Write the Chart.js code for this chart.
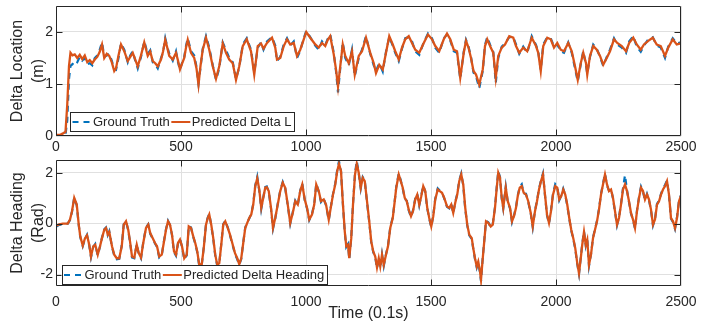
<!DOCTYPE html>
<html>
<head>
<meta charset="utf-8">
<script src="https://cdn.jsdelivr.net/npm/chart.js@4.4.1/dist/chart.umd.min.js"></script>
<style>
  html, body { margin: 0; padding: 0; background: #fff; }
  #wrap { position: relative; width: 722px; height: 324px; overflow: hidden; }
  canvas { position: absolute; left: 0; }
</style>
</head>
<body>
<div id="wrap">
  <canvas id="locChart" width="722" height="156" style="top:0px"></canvas>
  <canvas id="headChart" width="722" height="168" style="top:156px"></canvas>
</div>
<script>
// time axis + tick labels
const xTicks = [0, 500, 1000, 1500, 2000, 2500];
const locTicks = [0, 1, 2];
const headTicks = [-2, 0, 2];

// Delta Location (m)
const locTime = [
  0,15,28,38,45,52,58,66,75,85,
  95,105,115,125,135,145,155,165,175,184,
  193,203,213,223,233,240,250,260,273,287,
  297,307,317,327,340,353,367,377,387,397,
  407,420,428,437,445,453,467,480,488,496,
  505,513,520,527,540,553,562,570,578,587,
  600,613,627,640,653,667,680,693,707,720,
  733,747,763,780,793,807,820,830,844,864,
  877,884,897,911,924,937,951,964,977,991,
  1001,1017,1037,1051,1064,1077,1087,1097,1111,1120,
  1128,1137,1147,1157,1171,1184,1195,1211,1224,1240,
  1257,1271,1280,1293,1307,1320,1333,1347,1357,1371,
  1384,1397,1411,1424,1437,1453,1471,1488,1504,1517,
  1533,1551,1564,1577,1591,1604,1617,1631,1640,1650,
  1660,1670,1680,1693,1707,1716,1725,1739,1749,1759,
  1769,1783,1796,1813,1829,1840,1853,1869,1885,1903,
  1920,1929,1939,1949,1965,1979,1992,2005,2019,2032,
  2049,2063,2076,2087,2099,2109,2120,2125,2136,2149,
  2163,2176,2189,2203,2216,2232,2245,2263,2280,2293,
  2309,2323,2339,2352,2369,2387,2403,2419,2436,2449,
  2467,2483,2500
];
const locTrue = [
  0,0,0,0.02,0.3,1.1,1.35,1.38,1.45,1.42,
  1.52,1.45,1.5,1.38,1.4,1.36,1.5,1.55,1.66,1.8,
  1.53,1.55,1.58,1.45,1.28,1.27,1.5,1.78,1.66,1.42,
  1.55,1.63,1.45,1.3,1.52,1.82,1.58,1.65,1.42,1.38,
  1.3,1.5,1.6,1.88,1.72,1.58,1.45,1.63,1.42,1.27,
  1.42,1.52,1.73,1.88,1.63,1.55,1.33,1.0,1.32,1.68,
  1.92,1.7,1.36,1.08,1.3,1.8,1.65,1.5,1.42,1.1,
  1.32,1.76,1.88,1.66,1.22,1.7,1.8,1.66,1.82,1.9,
  1.74,1.44,1.52,1.76,1.88,1.74,1.82,1.5,1.64,1.88,
  2.02,1.9,1.74,1.66,1.82,1.75,1.87,1.95,1.6,1.25,
  0.84,1.3,1.8,1.5,1.36,1.66,1.15,1.5,1.66,1.92,
  1.58,1.36,1.25,1.4,1.24,1.62,1.9,1.74,1.6,1.44,
  1.68,1.88,1.9,1.82,1.63,1.56,1.8,1.97,1.88,1.7,
  1.6,1.88,1.95,1.84,1.63,1.6,1.1,1.62,1.85,1.72,
  1.52,1.22,1.15,0.92,1.25,1.75,1.9,1.72,1.62,1.02,
  1.5,1.72,1.78,1.9,1.9,1.76,1.58,1.72,1.6,1.92,
  1.75,1.62,1.27,1.76,1.9,1.88,1.72,1.76,1.63,1.6,
  1.8,1.6,1.3,1.05,1.38,1.63,1.36,1.2,1.52,1.76,
  1.68,1.52,1.35,1.52,1.66,1.88,1.76,1.7,1.6,1.82,
  1.92,1.72,1.62,1.74,1.86,1.9,1.74,1.7,1.5,1.72,
  1.88,1.78,1.8
];
const locPred = [
  0.02,0.02,0.05,0.08,0.6,1.35,1.6,1.55,1.57,1.5,
  1.56,1.48,1.55,1.42,1.46,1.4,1.47,1.52,1.62,1.76,
  1.5,1.58,1.54,1.42,1.25,1.3,1.55,1.76,1.63,1.44,
  1.52,1.6,1.47,1.34,1.55,1.8,1.54,1.62,1.44,1.4,
  1.34,1.47,1.62,1.85,1.7,1.54,1.47,1.6,1.45,1.28,
  1.4,1.5,1.7,1.85,1.6,1.5,1.3,0.99,1.35,1.66,
  1.89,1.66,1.34,1.1,1.34,1.78,1.6,1.47,1.4,1.08,
  1.34,1.73,1.86,1.63,1.18,1.73,1.78,1.68,1.79,1.89,
  1.7,1.47,1.5,1.73,1.86,1.76,1.79,1.54,1.66,1.86,
  2.0,1.89,1.76,1.7,1.79,1.73,1.85,1.92,1.57,1.28,
  0.95,1.34,1.76,1.54,1.4,1.63,1.18,1.54,1.63,1.89,
  1.6,1.4,1.21,1.37,1.28,1.6,1.92,1.76,1.63,1.47,
  1.7,1.86,1.92,1.79,1.66,1.6,1.79,1.95,1.86,1.73,
  1.63,1.86,1.97,1.86,1.66,1.63,1.12,1.6,1.83,1.7,
  1.5,1.25,1.18,0.99,1.28,1.73,1.86,1.7,1.6,1.12,
  1.54,1.7,1.76,1.92,1.89,1.73,1.6,1.7,1.63,1.89,
  1.73,1.6,1.25,1.73,1.89,1.86,1.7,1.79,1.66,1.63,
  1.79,1.63,1.34,1.08,1.4,1.6,1.4,1.18,1.54,1.73,
  1.66,1.54,1.37,1.5,1.63,1.86,1.79,1.73,1.63,1.79,
  1.89,1.76,1.66,1.76,1.83,1.89,1.76,1.73,1.54,1.7,
  1.86,1.76,1.78
];

// Delta Heading (Rad)
const headTime = [
  0,13,27,47,56,64,73,83,91,97,
  107,116,124,133,140,149,157,167,176,184,
  193,200,207,213,224,233,243,253,263,271,
  280,289,296,304,313,323,331,340,349,360,
  369,377,387,396,404,413,423,431,440,448,
  456,464,472,480,488,496,504,513,523,531,
  540,549,557,565,573,583,591,600,607,613,
  621,629,637,645,653,661,669,677,687,696,
  707,716,725,733,741,749,757,765,773,781,
  789,797,805,813,821,829,837,843,851,860,
  868,877,887,897,907,917,927,937,947,957,
  967,977,985,995,1004,1013,1024,1033,1041,1051,
  1060,1071,1080,1091,1100,1108,1117,1125,1132,1140,
  1147,1155,1161,1168,1173,1181,1188,1196,1203,1211,
  1219,1227,1235,1244,1253,1261,1269,1277,1284,1291,
  1297,1304,1311,1320,1328,1337,1347,1355,1361,1371,
  1379,1387,1395,1403,1411,1420,1428,1437,1445,1453,
  1461,1469,1477,1485,1493,1501,1509,1517,1527,1535,
  1544,1553,1564,1573,1581,1589,1597,1605,1613,1621,
  1629,1637,1645,1653,1663,1669,1676,1683,1689,1696,
  1700,1707,1713,1720,1729,1739,1747,1756,1763,1769,
  1776,1783,1789,1799,1807,1816,1824,1832,1840,1847,
  1855,1863,1871,1880,1889,1899,1907,1916,1924,1932,
  1940,1948,1956,1964,1972,1980,1988,1997,2005,2013,
  2021,2029,2037,2045,2053,2061,2069,2077,2085,2092,
  2099,2105,2112,2119,2125,2132,2140,2148,2156,2164,
  2172,2180,2188,2196,2204,2212,2220,2228,2236,2244,
  2252,2260,2268,2276,2284,2292,2300,2308,2316,2324,
  2332,2340,2348,2356,2364,2372,2380,2388,2396,2404,
  2412,2420,2428,2436,2444,2452,2460,2468,2476,2484,
  2492,2500
];
const headTrue = [
  -0.12,-0.05,-0.02,0,0.14,0.47,1.03,0.72,-0.06,-0.53,
  -0.88,-0.6,-0.44,-0.86,-1.32,-0.92,-0.8,-1.25,-0.9,-0.55,
  -0.22,-0.15,-0.45,-0.3,-0.92,-1.25,-1.4,-1.38,-0.86,-0.02,
  0.1,-0.27,-0.72,-1.33,-1.36,-0.8,-1.2,-1.37,-0.73,-0.15,
  -0.02,-0.4,-0.6,-0.78,-0.92,-1.33,-1.25,-0.73,-0.22,0.11,
  -0.06,-0.45,-1.12,-1.26,-0.78,-0.6,-0.92,-1.4,-1.25,-0.09,
  -0.15,-0.52,-0.79,-1.12,-1.66,-1.62,-0.93,-0.02,0.24,0.38,
  -0.06,-0.6,-1.25,-1.66,-1.58,-0.8,-0.02,0.11,-0.15,-0.46,
  -0.86,-1.2,-1.4,-1.62,-1.39,-0.73,-0.15,0.05,0.2,0.38,
  0.78,1.5,1.84,1.3,0.58,1.03,1.44,1.46,1.25,0.6,
  -0.2,0.2,0.78,1.3,1.64,1.38,0.72,0,0.45,0.9,
  0.72,1.3,1.58,0.92,0.6,0.14,0.38,0.78,1.57,1.25,
  0.85,0.98,0.72,0.13,0.7,1.16,1.57,2.12,2.45,2.05,
  0.85,-0.33,-0.92,-0.8,-1.4,-0.55,0.78,1.96,2.46,1.97,
  1.38,1.83,1.7,0.85,0.06,-0.73,-1.12,-1.32,-1.76,-1.33,
  -1.72,-1.2,-1.66,-1.2,-0.86,-0.15,0.25,0.9,1.44,1.97,
  1.7,1.38,0.98,0.9,0.52,0.26,0.52,0.98,1.17,0.72,
  1.1,1.5,1.25,0.6,0.2,-0.14,0.32,0.98,1.38,1.3,
  1.24,0.98,0.66,0.6,0.78,0.4,0.85,1.17,1.7,1.97,
  1.5,0.58,-0.07,-0.46,-0.6,-0.99,-1.4,-1.72,-1.52,-1.92,
  -2.26,-1.33,-0.67,0.11,0.05,-0.14,-0.02,0.65,1.45,2.06,
  1.83,0.98,0.6,1.45,0.85,0.6,0.06,0.32,0.65,1.1,
  1.45,1.55,1.18,1.17,0.85,0.4,-0.14,0.52,0.9,1.37,
  1.7,1.97,1.1,0.33,0,0.52,1.17,1.55,1.45,0.92,
  1.1,1.37,1.12,0.72,0.2,-0.27,-0.6,-0.99,-1.58,-1.98,
  -1.33,-0.8,-0.3,-0.86,-0.6,-1.66,-1.2,-0.55,-0.22,0.11,
  0.58,1.17,1.57,1.96,1.5,1.3,1.37,0.98,0.46,-0.07,
  0.25,0.78,1.38,1.9,1.3,0.85,0.4,0.14,-0.2,0.52,
  1.04,1.45,1.25,0.92,1.17,0.92,0.52,-0.07,0.18,0.78,
  0.9,1.17,1.38,1.52,1.7,1.1,0.2,0.06,-0.2,0.25,
  0.9,1.12
];
const headPred = [
  -0.08,-0.03,0,0,0.16,0.49,1.01,0.75,-0.04,-0.5,
  -0.86,-0.57,-0.46,-0.83,-1.29,-0.89,-0.83,-1.22,-0.89,-0.57,
  -0.24,-0.17,-0.43,-0.33,-0.89,-1.22,-1.36,-1.36,-0.89,-0.04,
  0.09,-0.24,-0.7,-1.29,-1.33,-0.83,-1.16,-1.33,-0.76,-0.17,
  -0.04,-0.37,-0.57,-0.76,-0.89,-1.29,-1.22,-0.76,-0.24,0.09,
  -0.04,-0.43,-1.09,-1.22,-0.76,-0.63,-0.89,-1.36,-1.22,-0.11,
  -0.17,-0.5,-0.76,-1.09,-1.62,-1.59,-0.96,-0.04,0.22,0.36,
  -0.04,-0.57,-1.22,-1.62,-1.55,-0.83,-0.04,0.09,-0.17,-0.43,
  -0.83,-1.16,-1.36,-1.59,-1.36,-0.76,-0.17,0.03,0.22,0.36,
  0.75,1.47,1.78,1.34,0.62,1.01,1.41,1.43,1.28,0.62,
  -0.17,0.22,0.75,1.28,1.61,1.41,0.75,0.03,0.42,0.88,
  0.75,1.28,1.54,0.95,0.62,0.16,0.36,0.75,1.54,1.28,
  0.88,0.95,0.75,0.16,0.68,1.14,1.54,2.07,2.35,2.07,
  0.88,-0.3,-0.89,-0.83,-1.36,-0.57,0.75,1.93,2.35,2.0,
  1.41,1.8,1.67,0.88,0.09,-0.7,-1.09,-1.29,-1.72,-1.36,
  -1.68,-1.22,-1.62,-1.22,-0.89,-0.17,0.22,0.88,1.41,1.93,
  1.67,1.41,1.01,0.88,0.55,0.29,0.49,0.95,1.14,0.75,
  1.08,1.47,1.28,0.62,0.22,-0.11,0.29,0.95,1.34,1.28,
  1.21,1.01,0.68,0.62,0.75,0.42,0.82,1.14,1.67,1.93,
  1.54,0.62,-0.04,-0.43,-0.57,-0.96,-1.36,-1.68,-1.49,-1.88,
  -2.2,-1.36,-0.7,0.09,0.03,-0.11,-0.04,0.62,1.41,2.0,
  1.8,1.01,0.62,1.41,0.88,0.62,0.09,0.29,0.62,1.08,
  1.41,1.47,1.21,1.14,0.88,0.42,-0.11,0.49,0.88,1.34,
  1.67,1.93,1.14,0.36,0.03,0.49,1.14,1.47,1.41,0.95,
  1.08,1.34,1.14,0.75,0.22,-0.24,-0.57,-0.96,-1.55,-1.95,
  -1.36,-0.83,-0.33,-0.83,-0.63,-1.62,-1.22,-0.57,-0.24,0.09,
  0.55,1.14,1.54,1.93,1.54,1.28,1.34,1.01,0.49,-0.04,
  0.22,0.75,1.34,1.54,1.28,0.88,0.42,0.16,-0.17,0.49,
  1.01,1.41,1.28,0.95,1.14,0.95,0.55,-0.04,0.16,0.75,
  0.88,1.14,1.34,1.47,1.67,1.14,0.22,0.09,-0.17,0.22,
  0.88,1.1
];

const INK = '#262626';
const GRID = '#e0e0e0';
const BLUE = '#0072bd';
const ORANGE = '#d95319';
const FONT = "'Liberation Sans', Arial, Helvetica, sans-serif";

const pts = (t, v) => t.map((x, i) => ({ x: x, y: v[i] }));

// axes box with inward tick marks, matlab style
const axesBox = {
  id: 'axesBox',
  afterDatasetsDraw(chart) {
    const { ctx, chartArea: a, scales } = chart;
    const L = Math.round(a.left) + 0.5, R = Math.round(a.right) - 0.5;
    const T = Math.round(a.top) + 0.5, B = Math.round(a.bottom) - 0.5;
    const len = 6;
    ctx.save();
    ctx.strokeStyle = INK;
    ctx.lineWidth = 1;
    ctx.beginPath();
    ctx.rect(L, T, R - L, B - T);
    scales.x.ticks.forEach(t => {
      const px = Math.round(scales.x.getPixelForValue(t.value)) + 0.5;
      if (px <= L + 1 || px >= R - 1) return;
      ctx.moveTo(px, B); ctx.lineTo(px, B - len);
      ctx.moveTo(px, T); ctx.lineTo(px, T + len);
    });
    scales.y.ticks.forEach(t => {
      const py = Math.round(scales.y.getPixelForValue(t.value)) + 0.5;
      if (py <= T + 1 || py >= B - 1) return;
      ctx.moveTo(L, py); ctx.lineTo(L + len, py);
      ctx.moveTo(R, py); ctx.lineTo(R - len, py);
    });
    ctx.stroke();
    ctx.restore();
  }
};

// legend box sitting inside the plot
const boxLegend = {
  id: 'boxLegend',
  afterDatasetsDraw(chart, args, o) {
    const ctx = chart.ctx;
    const sets = chart.data.datasets;
    ctx.save();
    ctx.font = o.size + 'px ' + FONT;
    let cur = o.x + 2.5;
    const items = sets.map(ds => {
      const it = { ds: ds, x0: cur };
      cur += o.sample + 1.5;
      it.tx = cur;
      cur += ctx.measureText(ds.label).width + 1.5;
      return it;
    });
    const w = cur + 1.5 - o.x;
    ctx.fillStyle = '#fff';
    ctx.fillRect(o.x, o.y, w, o.h);
    ctx.strokeStyle = INK;
    ctx.lineWidth = 1;
    ctx.strokeRect(Math.round(o.x) + 0.5, Math.round(o.y) + 0.5, Math.round(w) - 1, Math.round(o.h) - 1);
    const cy = o.y + o.h / 2;
    items.forEach(it => {
      ctx.beginPath();
      ctx.strokeStyle = it.ds.borderColor;
      ctx.lineWidth = 2;
      ctx.setLineDash(it.ds.borderDash || []);
      ctx.moveTo(it.x0, cy);
      ctx.lineTo(it.x0 + o.sample, cy);
      ctx.stroke();
      ctx.setLineDash([]);
      ctx.fillStyle = INK;
      ctx.textBaseline = 'middle';
      ctx.textAlign = 'left';
      ctx.fillText(it.ds.label, it.tx, cy + 0.5);
    });
    ctx.restore();
  }
};

function makeChart(id, c) {
  return new Chart(document.getElementById(id), {
    type: 'line',
    data: {
      datasets: [
        { label: 'Ground Truth', data: pts(c.time, c.truth), borderColor: BLUE, borderWidth: 2.2,
          borderDash: [6, 5], pointRadius: 0, order: 1 },
        { label: c.predLabel, data: pts(c.time, c.pred), borderColor: ORANGE, borderWidth: 2.3,
          pointRadius: 0, order: 0 }
      ]
    },
    options: {
      responsive: false,
      animation: false,
      devicePixelRatio: 1,
      events: [],
      elements: { line: { tension: 0 } },
      layout: { padding: { top: c.padTop, right: 41, left: 0, bottom: 0 } },
      plugins: {
        legend: { display: false },
        tooltip: { enabled: false },
        boxLegend: c.legend
      },
      scales: {
        x: {
          type: 'linear', min: 0, max: 2500,
          afterBuildTicks: s => { s.ticks = xTicks.map(v => ({ value: v })); },
          afterFit: s => { s.height = c.xHeight; s.paddingLeft = 0; s.paddingRight = 0; },
          grid: { color: GRID, drawTicks: false },
          border: { display: false },
          ticks: { color: INK, font: { family: FONT, size: 14 }, padding: c.xPad,
                   maxRotation: 0, autoSkip: false, callback: v => String(v) },
          title: c.xTitle ? { display: true, text: c.xTitle, color: INK,
                   font: { family: FONT, size: 16 }, padding: { top: 0, bottom: 0.5 } } : { display: false }
        },
        y: {
          min: c.yMin, max: c.yMax,
          afterBuildTicks: s => { s.ticks = c.yTicks.map(v => ({ value: v })); },
          afterFit: s => { s.width = 56; s.paddingTop = 0; s.paddingBottom = 0; },
          grid: { color: GRID, drawTicks: false },
          border: { display: false },
          ticks: { color: INK, font: { family: FONT, size: 14 }, padding: 3, callback: v => String(v) },
          title: { display: true, text: c.yTitle, color: INK,
                   font: { family: FONT, size: 16, lineHeight: 1.3125 }, padding: { top: 7.5, bottom: 0 } }
        }
      }
    },
    plugins: [axesBox, boxLegend]
  });
}

makeChart('locChart', {
  time: locTime, truth: locTrue, pred: locPred, predLabel: 'Predicted Delta L',
  yMin: 0, yMax: 2.5, yTicks: locTicks, yTitle: ['Delta Location', '(m)'],
  padTop: 6, xHeight: 20, xPad: 2.6,
  legend: { x: 70, y: 112, h: 20, sample: 19, size: 13 }
});

makeChart('headChart', {
  time: headTime, truth: headTrue, pred: headPred, predLabel: 'Predicted Delta Heading',
  yMin: -2.45, yMax: 2.5, yTicks: headTicks, yTitle: ['Delta Heading', '(Rad)'],
  xTitle: 'Time (0.1s)',
  padTop: 4, xHeight: 38, xPad: 7.3,
  legend: { x: 61.5, y: 109, h: 20, sample: 19, size: 13 }
});
</script>
</body>
</html>
